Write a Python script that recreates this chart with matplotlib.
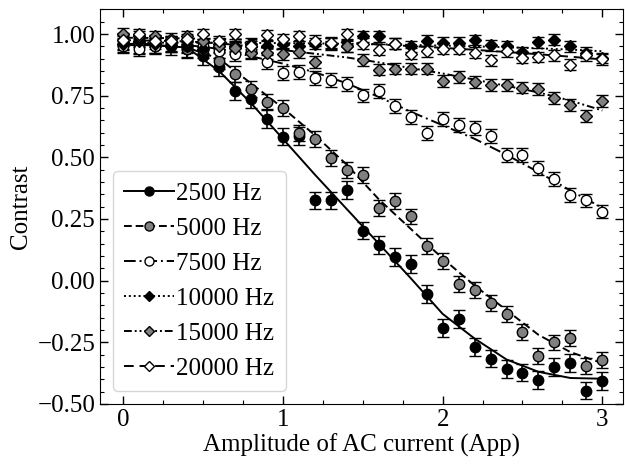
import matplotlib
matplotlib.use('Agg')
import matplotlib.pyplot as plt
from matplotlib.lines import Line2D
from matplotlib.ticker import MultipleLocator, FuncFormatter

plt.rcParams['font.family'] = ['Liberation Serif', 'DejaVu Serif']
plt.rcParams['font.size'] = 18

# amplitude of the AC current (App)
amplitude = [0.0, 0.1, 0.2, 0.3, 0.4, 0.5, 0.6, 0.7, 0.8, 0.9, 1.0,
             1.1, 1.2, 1.3, 1.4, 1.5, 1.6, 1.7, 1.8, 1.9, 2.0,
             2.1, 2.2, 2.3, 2.4, 2.5, 2.6, 2.7, 2.8, 2.9, 3.0]

c2500 = [0.97, 0.96, 0.96, 0.95, 0.94, 0.91, 0.865, 0.77, 0.737, 0.656, 0.584,
         0.585, 0.325, 0.325, 0.368, 0.203, 0.145, 0.097, 0.066, -0.055, -0.193,
         -0.157, -0.268, -0.316, -0.359, -0.373, -0.403, -0.349, -0.335, -0.446, -0.407]
c5000 = [0.96, 0.95, 0.95, 0.96, 0.94, 0.935, 0.89, 0.838, 0.776, 0.726, 0.699,
         0.600, 0.575, 0.497, 0.449, 0.428, 0.295, 0.322, 0.260, 0.141, 0.078,
         -0.014, -0.038, -0.092, -0.135, -0.207, -0.305, -0.251, -0.234, -0.345, -0.322]
c7500 = [0.95, 0.94, 0.95, 0.96, 0.95, 0.95, 0.93, 0.92, 0.93, 0.888, 0.843,
         0.847, 0.820, 0.812, 0.798, 0.751, 0.770, 0.708, 0.662, 0.600, 0.654,
         0.631, 0.618, 0.587, 0.510, 0.510, 0.456, 0.411, 0.347, 0.325, 0.280]
c10000 = [0.96, 0.97, 0.96, 0.95, 0.95, 0.94, 0.96, 0.95, 0.96, 0.95, 0.96,
          0.95, 0.96, 0.96, 0.95, 0.99, 0.99, 0.96, 0.95, 0.973, 0.965,
          0.965, 0.976, 0.955, 0.95, 0.927, 0.967, 0.977, 0.95, 0.924, 0.903]
c15000 = [1.0, 0.99, 0.99, 0.98, 0.99, 0.97, 0.95, 0.942, 0.922, 0.922, 0.918,
          0.927, 0.886, 0.96, 0.952, 0.893, 0.856, 0.86, 0.86, 0.86, 0.81,
          0.827, 0.807, 0.793, 0.793, 0.783, 0.777, 0.74, 0.711, 0.667, 0.727]
c20000 = [0.975, 1.0, 0.97, 0.97, 0.98, 1.0, 0.97, 1.0, 0.951, 0.996, 0.978,
          0.992, 0.973, 0.965, 1.0, 0.96, 0.936, 0.96, 0.92, 0.93, 0.94,
          0.94, 0.924, 0.893, 0.93, 0.903, 0.907, 0.913, 0.876, 0.913, 0.897]
errors = [0.036, 0.032, 0.028, 0.022, 0.024, 0.022]

# fitted curves
fit_x = [0.0, 0.2, 0.4, 0.6, 0.8, 1.0, 1.2, 1.4, 1.6, 1.8, 2.0, 2.2, 2.4, 2.6, 2.8, 3.0]
fit2500 = [0.955, 0.955, 0.945, 0.85, 0.72, 0.575, 0.43, 0.29, 0.15, 0.01, -0.135,
           -0.235, -0.32, -0.37, -0.395, -0.398]
fit5000 = [0.955, 0.955, 0.945, 0.90, 0.80, 0.70, 0.59, 0.47, 0.33, 0.21, 0.09,
           -0.02, -0.12, -0.22, -0.29, -0.335]
fit7500 = [0.96, 0.96, 0.955, 0.94, 0.91, 0.88, 0.845, 0.80, 0.745, 0.685, 0.63,
           0.575, 0.51, 0.44, 0.365, 0.295]
fit10000 = [0.965, 0.965, 0.965, 0.965, 0.964, 0.963, 0.962, 0.96, 0.958, 0.956, 0.953,
            0.95, 0.946, 0.942, 0.937, 0.93]
fit15000 = [0.975, 0.973, 0.97, 0.962, 0.95, 0.935, 0.92, 0.905, 0.885, 0.862, 0.84,
            0.815, 0.79, 0.763, 0.73, 0.69]
fit20000 = [0.985, 0.984, 0.982, 0.98, 0.977, 0.974, 0.97, 0.965, 0.958, 0.951, 0.944,
            0.936, 0.927, 0.918, 0.908, 0.897]

labels = ['2500 Hz', '5000 Hz', '7500 Hz', '10000 Hz', '15000 Hz', '20000 Hz']
data = [c2500, c5000, c7500, c10000, c15000, c20000]
fits = [fit2500, fit5000, fit7500, fit10000, fit15000, fit20000]
markers = ['o', 'o', 'o', 'D', 'D', 'D']
faces = ['black', 'grey', 'white', 'black', 'grey', 'white']
styles = ['-', (0, (4, 2)), (0, (6, 2, 1, 2)), (0, (1, 1.5)),
          (0, (4, 1.5, 1, 1.5, 1, 1.5)), (0, (5, 3))]

fig = plt.figure(figsize=(6.25, 4.68), dpi=100)
ax = fig.add_axes([0.16, 0.137, 0.837, 0.843])

handles = []
for y, f, m, fc, ls, err, lab in zip(data, fits, markers, faces, styles, errors, labels):
    ax.plot(fit_x, f, color='black', linestyle=ls, linewidth=1.4, zorder=2)
    ms = 7.5 if m == 'o' else 6.5
    ax.errorbar(amplitude, y, yerr=err, fmt=m, ms=ms, mfc=fc, mec='black', mew=1.0,
                ecolor='black', elinewidth=1.2, capsize=4.5, capthick=1.2, zorder=3)
    handles.append(Line2D([], [], color='black', linestyle=ls, linewidth=1.4, marker=m,
                          ms=ms - 1, mfc=fc, mec='black', mew=1.0, label=lab))

ax.set_xlim(-0.145, 3.13)
ax.set_ylim(-0.5, 1.1)
ax.xaxis.set_major_locator(MultipleLocator(1))
ax.xaxis.set_minor_locator(MultipleLocator(0.25))
ax.yaxis.set_major_locator(MultipleLocator(0.25))
ax.yaxis.set_minor_locator(MultipleLocator(0.05))
ax.yaxis.set_major_formatter(FuncFormatter(lambda v, p: f'{v:.2f}'.replace('-', '\u2212')))
ax.tick_params(which='both', direction='in', top=True, right=True, labelsize=18)
ax.tick_params(which='major', length=6, width=1)
ax.tick_params(which='minor', length=3, width=0.8)
ax.set_xlabel('Amplitude of AC current (App)', fontsize=18, labelpad=2)
ax.set_ylabel('Contrast', fontsize=18)

ax.legend(handles=handles, loc='lower left', fontsize=18, handlelength=2.0,
          handletextpad=0.1, labelspacing=0.5, borderpad=0.45, borderaxespad=0.5)

fig.savefig('out.png', dpi=100)
